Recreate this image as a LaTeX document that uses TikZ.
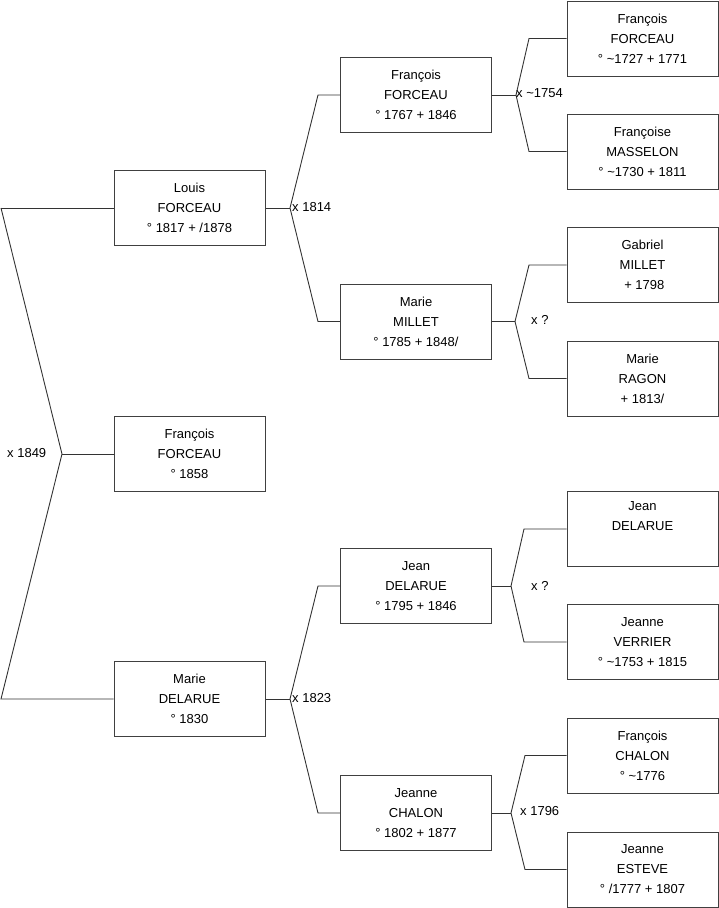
\documentclass[tikz,border=0pt]{standalone}
\usepackage{fontspec}
\setmainfont{Liberation Sans}
\begin{document}
\begin{tikzpicture}[x=1pt,y=-1pt,
  person/.style={draw=black!75,line width=1pt,minimum width=151pt,minimum height=75pt,
    inner sep=0pt,align=center,font=\fontsize{13}{20}\selectfont},
  link/.style={draw=black!80,line width=0.9pt},
  lbl/.style={anchor=west,inner sep=0pt,font=\fontsize{13}{15}\selectfont}]
\useasboundingbox (0,0) rectangle (719,908);
% column 1
\node[person] (louis) at (189.5,208) {Louis\\FORCEAU\\° 1817 + /1878};
\node[person] (francoisM) at (189.5,454) {François\\FORCEAU\\° 1858};
\node[person] (marieD) at (189.5,699) {Marie\\DELARUE\\° 1830};
% column 2
\node[person] (francoisF) at (416,95) {François\\FORCEAU\\° 1767 + 1846};
\node[person] (marieM) at (416,321.5) {Marie\\MILLET\\° 1785 + 1848/};
\node[person] (jeanD) at (416,586) {Jean\\DELARUE\\° 1795 + 1846};
\node[person] (jeanneC) at (416,813) {Jeanne\\CHALON\\° 1802 + 1877};
% column 3
\node[person] (francoisG) at (642.5,38.5) {François\\FORCEAU\\° \textasciitilde1727 + 1771};
\node[person] (francoiseM) at (642.5,151.5) {Françoise\\MASSELON\\° \textasciitilde1730 + 1811};
\node[person] (gabriel) at (642.5,265) {Gabriel\\MILLET\\\ + 1798};
\node[person] (marieR) at (642.5,378.5) {Marie\\RAGON\\+ 1813/};
\node[person] (jeanDD) at (642.5,529) {Jean\\DELARUE\\\strut};
\node[person] (jeanneV) at (642.5,642) {Jeanne\\VERRIER\\° \textasciitilde1753 + 1815};
\node[person] (francoisC) at (642.5,755.5) {François\\CHALON\\° \textasciitilde1776};
\node[person] (jeanneE) at (642.5,869.5) {Jeanne\\ESTEVE\\° /1777 + 1807};
% fork coordinates
\coordinate (a0) at (1,208);
\coordinate (a1) at (62,454);
\coordinate (a2) at (1,699);
\coordinate (b0) at (290,208);
\coordinate (b1) at (318,95);
\coordinate (b2) at (318,321.5);
\coordinate (c0) at (290,699);
\coordinate (c1) at (318,586);
\coordinate (c2) at (318,813);
\coordinate (d0) at (516,95);
\coordinate (d1) at (529,38.5);
\coordinate (d2) at (529,151.5);
\coordinate (e0) at (515,321.5);
\coordinate (e1) at (529,265);
\coordinate (e2) at (529,378.5);
\coordinate (f0) at (511,586);
\coordinate (f1) at (524,529);
\coordinate (f2) at (524,642);
\coordinate (g0) at (511,813);
\coordinate (g1) at (525,755.5);
\coordinate (g2) at (525,869.5);
% connectors
\draw[link] (a0) -- (louis.west);
\draw[link] (a0) -- (a1) -- (a2) -- (marieD.west);
\draw[link] (a1) -- (francoisM.west);
\draw[link] (louis.east) -- (b0);
\draw[link] (francoisF.west) -- (b1) -- (b0) -- (b2) -- (marieM.west);
\draw[link] (marieD.east) -- (c0);
\draw[link] (jeanD.west) -- (c1) -- (c0) -- (c2) -- (jeanneC.west);
\draw[link] (francoisF.east) -- (d0);
\draw[link] (francoisG.west) -- (d1) -- (d0) -- (d2) -- (francoiseM.west);
\draw[link] (marieM.east) -- (e0);
\draw[link] (gabriel.west) -- (e1) -- (e0) -- (e2) -- (marieR.west);
\draw[link] (jeanD.east) -- (f0);
\draw[link] (jeanDD.west) -- (f1) -- (f0) -- (f2) -- (jeanneV.west);
\draw[link] (jeanneC.east) -- (g0);
\draw[link] (francoisC.west) -- (g1) -- (g0) -- (g2) -- (jeanneE.west);
% labels
\node[lbl] (m1) at (7,453) {x 1849};
\node[lbl] (m2) at (292,207) {x 1814};
\node[lbl] (m3) at (292,698) {x 1823};
\node[lbl] (m4) at (516,93) {x \textasciitilde1754};
\node[lbl] (m5) at (531,320) {x ?};
\node[lbl] (m6) at (531,586) {x ?};
\node[lbl] (m7) at (520,811) {x 1796};
\end{tikzpicture}
\end{document}
